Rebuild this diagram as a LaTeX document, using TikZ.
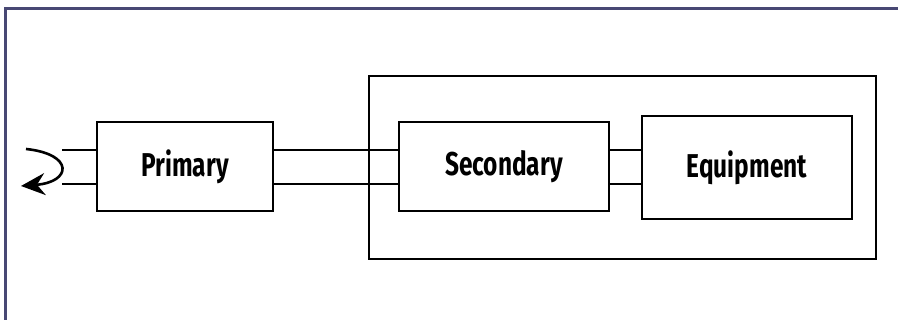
\documentclass[tikz,border=0pt]{standalone}
\usepackage{fontspec}
\setmainfont{Fira Sans}[FakeStretch=0.74]
\usetikzlibrary{arrows.meta}
\definecolor{slate}{RGB}{72,72,116}

\begin{document}
\begin{tikzpicture}[x=1pt, y=-1pt,
  blockbox/.style={draw, line width=2.8pt, inner sep=0pt, font=\fontsize{33}{36}\selectfont\bfseries},
  wire/.style={line width=2.6pt}]

\useasboundingbox (0,0) rectangle (898,320);
\draw[slate, line width=3.5pt] (5.5,320) -- (5.5,8.5) -- (898,8.5);

\node[draw, line width=2.6pt, minimum width=507pt, minimum height=183pt] (housing) at (622.5,167.5) {};
\node[blockbox, minimum width=176pt, minimum height=89pt] (primary) at (185,166.5) {Primary};
\node[blockbox, minimum width=210pt, minimum height=89pt] (secondary) at (504,166.5) {Secondary};
\node[blockbox, minimum width=210pt, minimum height=103pt] (equipment) at (747,167.5) {Equipment};

\coordinate (feedtop) at (62,150);
\coordinate (feedbot) at (62,184);
\draw[wire] (feedtop) -- (feedtop -| primary.west);
\draw[wire] (feedbot) -- (feedbot -| primary.west);

\draw[wire] ([yshift=16.5pt]primary.east) -- ([yshift=16.5pt]secondary.west);
\draw[wire] ([yshift=-17.5pt]primary.east) -- ([yshift=-17.5pt]secondary.west);
\draw[wire] ([yshift=16.5pt]secondary.east) -- ([yshift=16.5pt]secondary.east -| equipment.west);
\draw[wire] ([yshift=-17.5pt]secondary.east) -- ([yshift=-17.5pt]secondary.east -| equipment.west);

\coordinate (loopstart) at (26,149);
\coordinate (loopend) at (21,186);
\draw[line width=2.6pt, -{Stealth[length=24pt, width=22pt, inset=8pt]}]
  (loopstart) .. controls (74,154) and (72,182) .. (loopend);

\end{tikzpicture}
\end{document}
